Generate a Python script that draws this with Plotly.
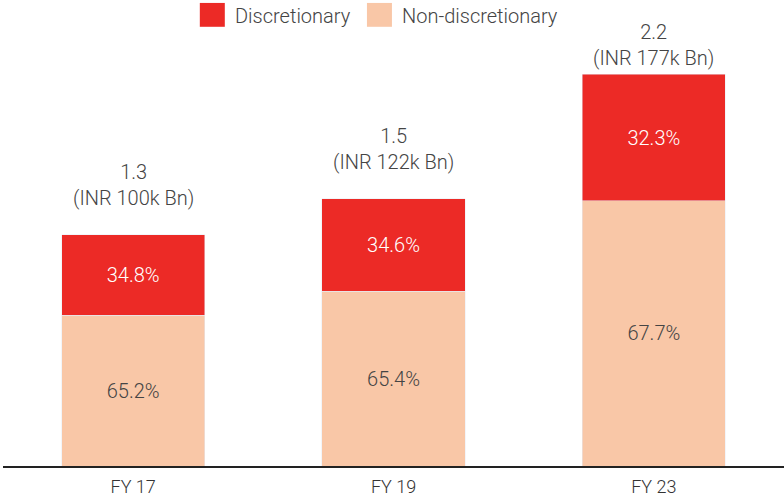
import plotly.graph_objects as go

years = ['FY 17', 'FY 19', 'FY 23']
totals = [1.3, 1.5, 2.2]
inr_labels = ['INR 100k Bn', 'INR 122k Bn', 'INR 177k Bn']
disc_pct = [34.8, 34.6, 32.3]
non_disc_pct = [65.2, 65.4, 67.7]

red = '#EC2A26'
peach = '#F9C7A7'
font = 'Roboto'

non_disc_vals = [t * p / 100 for t, p in zip(totals, non_disc_pct)]
disc_vals = [t * p / 100 for t, p in zip(totals, disc_pct)]

fig = go.Figure()
fig.add_trace(go.Bar(
    x=years, y=non_disc_vals, name='Non-discretionary', marker_color=peach,
    text=[f'{p}%' for p in non_disc_pct], textposition='inside',
    insidetextanchor='middle', constraintext='none',
    textfont=dict(color='#444444', size=20, family=font, weight=300)))
fig.add_trace(go.Bar(
    x=years, y=disc_vals, name='Discretionary', marker_color=red,
    text=[f'{p}%' for p in disc_pct], textposition='inside',
    insidetextanchor='middle', constraintext='none',
    textfont=dict(color='white', size=20, family=font, weight=300)))

# totals above the bars (the last one sits tight to the bar, like the original)
for i, (yr, t, lab) in enumerate(zip(years, totals, inr_labels)):
    shift = 2 if i == len(years) - 1 else 23
    fig.add_annotation(x=yr, y=t, text=f'{t}<br>({lab})', showarrow=False,
                       yanchor='bottom', yshift=shift,
                       font=dict(size=20, color='#444444', family=font, weight=300))

# legend drawn by hand so the swatches are big
legend_items = [('Discretionary', red, 0.252), ('Non-discretionary', peach, 0.466)]
for name, col, x0 in legend_items:
    fig.add_shape(type='rect', xref='paper', yref='paper',
                  x0=x0, x1=x0 + 0.032, y0=1.031, y1=1.087,
                  fillcolor=col, line_width=0)
    fig.add_annotation(xref='paper', yref='paper', x=x0 + 0.042, y=1.056,
                       text=name, showarrow=False, xanchor='left', yanchor='middle',
                       font=dict(size=20, color='#444444', family=font, weight=300))

fig.update_layout(
    barmode='stack', bargap=0.45, showlegend=False,
    width=784, height=501, margin=dict(l=3, r=0, t=40, b=35),
    plot_bgcolor='white', paper_bgcolor='white',
    font=dict(family=font, color='#333333'),
    xaxis=dict(showline=True, linecolor='#222222', linewidth=1.5, ticks='',
               ticklabelstandoff=4,
               tickfont=dict(size=18, color='#333333', family=font, weight=300)),
    yaxis=dict(range=[0, 2.393], visible=False, showgrid=False))

fig.write_html('out.html', config={'displayModeBar': False},
               post_script="document.body.style.margin='0';")
